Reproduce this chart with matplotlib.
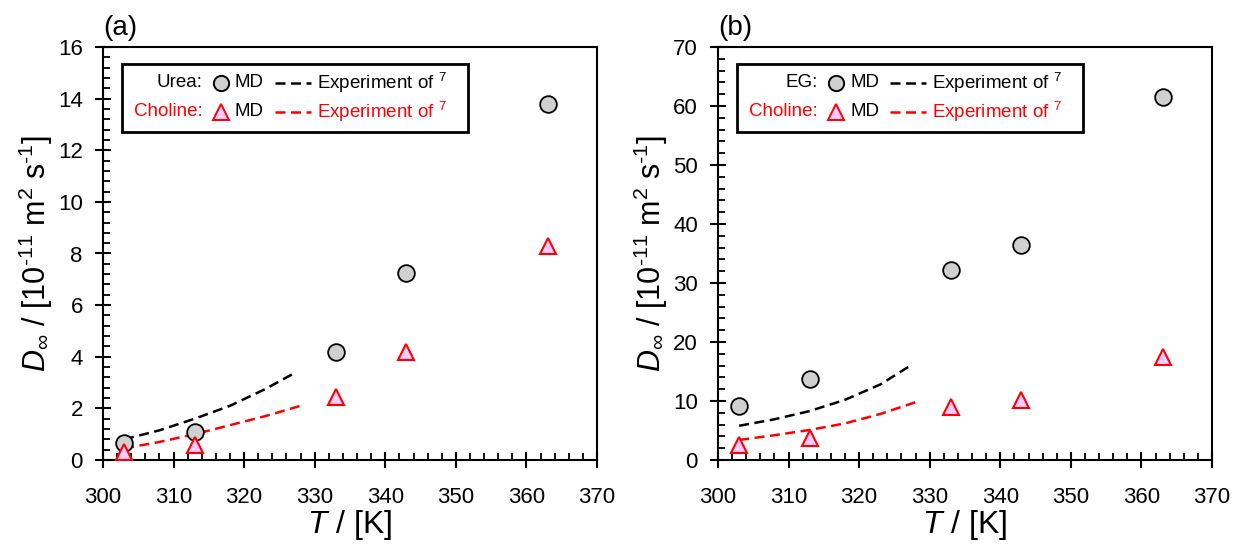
import numpy as np
import matplotlib.pyplot as plt
from matplotlib.patches import Rectangle
from matplotlib.ticker import MultipleLocator

plt.rcParams['font.family'] = ['Liberation Sans', 'DejaVu Sans']
plt.rcParams['mathtext.fontset'] = 'custom'
plt.rcParams['mathtext.rm'] = 'Liberation Sans'
plt.rcParams['mathtext.it'] = 'Liberation Sans:italic'

# MD temperatures (K)
T_md = [303, 313, 333, 343, 363]
# experiment temperatures (K)
T_exp_blk = [303, 308, 313, 318, 323, 327]
T_exp_red = [303, 308, 313, 318, 323, 328]

# (a) urea / choline, D in 1e-11 m2/s
urea_md = [0.65, 1.1, 4.2, 7.25, 13.8]
chol_md_a = [0.3, 0.6, 2.45, 4.2, 8.3]
urea_exp = [0.8, 1.15, 1.6, 2.1, 2.75, 3.35]
chol_exp_a = [0.45, 0.7, 1.0, 1.35, 1.7, 2.1]

# (b) EG / choline
eg_md = [9.2, 13.8, 32.2, 36.5, 61.5]
chol_md_b = [2.5, 3.8, 8.9, 10.2, 17.5]
eg_exp = [5.8, 6.9, 8.3, 10.2, 12.8, 15.8]
chol_exp_b = [3.4, 4.2, 5.1, 6.2, 7.8, 9.8]

panels = [
    dict(tag='(a)', name='Urea:', md=urea_md, cmd=chol_md_a, ex=urea_exp, cex=chol_exp_a,
         ymax=16, major=2, minor=0.4),
    dict(tag='(b)', name='EG:', md=eg_md, cmd=chol_md_b, ex=eg_exp, cex=chol_exp_b,
         ymax=70, major=10, minor=2),
]

fig = plt.figure(figsize=(12.35, 5.48), dpi=100)
lefts = [103 / 1235, 718 / 1235]
dash = (0, (4, 2.2))

for left, p in zip(lefts, panels):
    ax = fig.add_axes([left, 88 / 548, 494 / 1235, 413 / 548])
    ax.plot(T_exp_blk, p['ex'], color='black', lw=1.8, linestyle=dash, zorder=2)
    ax.plot(T_exp_red, p['cex'], color='red', lw=1.8, linestyle=dash, zorder=2)
    ax.plot(T_md, p['md'], 'o', ms=12, mfc='#d0d0d0', mec='black', mew=1.3, zorder=3)
    ax.plot(T_md, p['cmd'], '^', ms=12, mfc='#ffccff', mec='red', mew=1.5, zorder=4)

    ax.set_xlim(300, 370)
    ax.set_ylim(0, p['ymax'])
    ax.xaxis.set_major_locator(MultipleLocator(10))
    ax.xaxis.set_minor_locator(MultipleLocator(2))
    ax.yaxis.set_major_locator(MultipleLocator(p['major']))
    ax.yaxis.set_minor_locator(MultipleLocator(p['minor']))
    ax.tick_params(which='major', direction='inout', length=11, width=1.5, labelsize=16)
    ax.tick_params(which='minor', direction='in', length=5, width=1.3)
    ax.tick_params(axis='x', which='major', pad=14)
    ax.tick_params(axis='y', which='major', pad=9)
    for s in ax.spines.values():
        s.set_linewidth(1.5)

    ax.set_xlabel('$T$ / [K]', fontsize=23, labelpad=0)
    ax.set_ylabel('$D_{\\infty}$ / [10$^{\\text{-}11}$ m$^{2}$ s$^{\\text{-}1}$]', fontsize=22, labelpad=2)
    ax.text(0.0, 1.015, p['tag'], transform=ax.transAxes, fontsize=20, ha='left', va='bottom')

    # hand-built legend box (pixel offsets converted to axes fraction)
    W, H = 494.0, 413.0
    bx0, by_top, by_bot = 19 / W, (460 - 64) / H, (460 - 132) / H
    ax.add_patch(Rectangle((bx0, by_bot), 346 / W, by_top - by_bot, transform=ax.transAxes,
                           fill=True, fc='white', ec='black', lw=2.0, zorder=5))
    rows = [(p['name'], 'black', 'o', '#d0d0d0', 'black', (460 - 83) / H),
            ('Choline:', 'red', '^', '#ffccff', 'red', (460 - 112) / H)]
    for label, col, mk, fc, ec, yy in rows:
        ax.text(bx0 + 81 / W, yy, label, color=col, fontsize=13.5, ha='right', va='center',
                transform=ax.transAxes, zorder=6)
        ax.plot([bx0 + 99 / W], [yy], mk, ms=11, mfc=fc, mec=ec, mew=1.4,
                transform=ax.transAxes, zorder=6, clip_on=False)
        ax.text(bx0 + 113 / W, yy, 'MD', color='black', fontsize=13.5, ha='left', va='center',
                transform=ax.transAxes, zorder=6)
        ax.plot([bx0 + 153 / W, bx0 + 189 / W], [yy, yy], color=col, lw=1.8, linestyle=dash,
                transform=ax.transAxes, zorder=6)
        ax.text(bx0 + 195 / W, yy, 'Experiment of $^{7}$', color=col, fontsize=13.5,
                ha='left', va='center', transform=ax.transAxes, zorder=6)

fig.savefig('out.png', dpi=100)
